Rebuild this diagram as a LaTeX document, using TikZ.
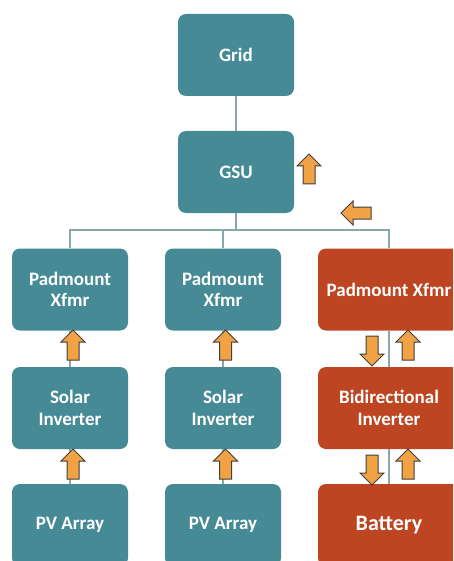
\documentclass[tikz,border=0pt]{standalone}
\usepackage{fontspec}
\setmainfont{Carlito}
\usetikzlibrary{shapes.arrows}
\definecolor{tealbox}{HTML}{468A96}
\definecolor{rustbox}{HTML}{BE4521}
\definecolor{flowfill}{HTML}{F0A244}
\definecolor{flowline}{HTML}{3F3F3F}
\definecolor{wire}{HTML}{86A8AE}
\tikzset{
  blk/.style={draw=none, rounded corners=8pt, minimum width=116pt, minimum height=82pt,
    inner sep=0pt, align=center, text=white, font=\bfseries\fontsize{19}{21.5}\selectfont},
  tealblk/.style={blk, fill=tealbox},
  rustblk/.style={blk, fill=rustbox, minimum width=142pt},
  wireline/.style={draw=wire, line width=1.6pt},
  flow/.style={single arrow, draw=flowline, fill=flowfill, line width=1pt,
    minimum height=30pt, inner xsep=0pt, inner ysep=5.5pt,
    single arrow head extend=6pt, single arrow tip angle=90, anchor=center},
}
\begin{document}
\begin{tikzpicture}[x=1pt, y=-1pt]
\useasboundingbox (0,0) rectangle (453,561);
\clip (0,0) rectangle (453,561);

% blocks
\node[tealblk] (grid) at (236,55) {Grid};
\node[tealblk] (gsu) at (236,172) {GSU};
\node[tealblk] (pad1) at (70,289.5) {Padmount\\Xfmr};
\node[tealblk] (inv1) at (70,408) {Solar\\Inverter};
\node[tealblk] (pv1) at (70,525) {PV Array};
\node[tealblk] (pad2) at (223,289.5) {Padmount\\Xfmr};
\node[tealblk] (inv2) at (223,408) {Solar\\Inverter};
\node[tealblk] (pv2) at (223,525) {PV Array};
\node[rustblk] (pad3) at (389,289.5) {Padmount Xfmr};
\node[rustblk] (inv3) at (389,408) {Bidirectional\\Inverter};
\node[rustblk, font=\bfseries\fontsize{22}{26}\selectfont] (bat) at (389,525) {Battery};

% wiring
\coordinate (bus) at (236,230);
\draw[wireline] (grid.south) -- (gsu.north);
\draw[wireline] (gsu.south) -- (bus);
\draw[wireline] (pad1.north) |- (bus) -| (pad3.north);
\draw[wireline] (pad2.north) -- (pad2.north |- bus);
\draw[wireline] (pad1.south) -- (inv1.north);
\draw[wireline] (inv1.south) -- (pv1.north);
\draw[wireline] (pad2.south) -- (inv2.north);
\draw[wireline] (inv2.south) -- (pv2.north);
\draw[wireline] (pad3.south) -- (inv3.north);
\draw[wireline] (inv3.south) -- (bat.north);

% power-flow arrows
\node[flow, rotate=90] (fgsu) at (309,172) {};
\node[flow, rotate=180] (fbus) at (359,213) {};
\node[flow, rotate=90] (f1a) at (73,348) {};
\node[flow, rotate=90] (f1b) at (73,467) {};
\node[flow, rotate=90] (f2a) at (225.5,348) {};
\node[flow, rotate=90] (f2b) at (225.5,467) {};
\node[flow, rotate=-90] (f3a) at (372,348) {};
\node[flow, rotate=90] (f3b) at (408,348) {};
\node[flow, rotate=-90] (f3c) at (372,467) {};
\node[flow, rotate=90] (f3d) at (408,467) {};
\end{tikzpicture}
\end{document}
